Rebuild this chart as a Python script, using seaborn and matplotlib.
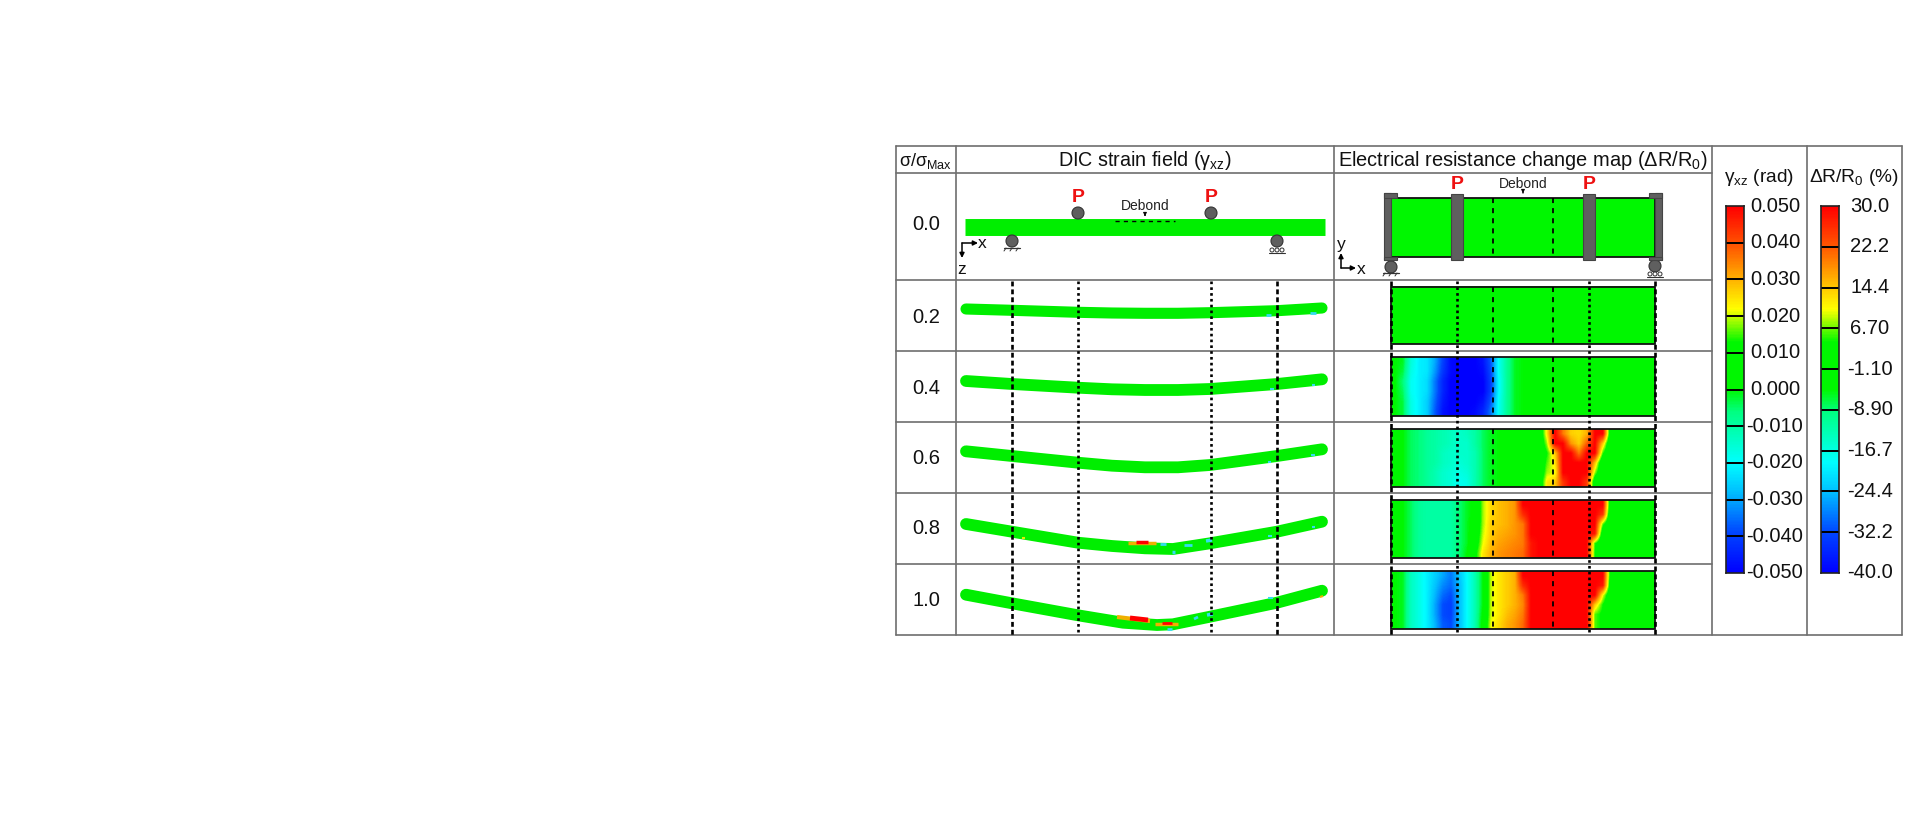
import numpy as np
import pandas as pd
import matplotlib
matplotlib.use('Agg')
import matplotlib.pyplot as plt
from matplotlib.colors import LinearSegmentedColormap
from matplotlib.patches import Rectangle, Circle
import seaborn as sns

sns.set_theme(style='white')
plt.rcParams['font.family'] = ['Liberation Sans', 'DejaVu Sans']
plt.rcParams['mathtext.fontset'] = 'custom'
plt.rcParams['mathtext.rm'] = 'Liberation Sans'
plt.rcParams['mathtext.it'] = 'Liberation Sans'
plt.rcParams['mathtext.default'] = 'rm'

# table text
head_ratio = 'σ/σ$_{Max}$'
head_dic = 'DIC strain field (γ$_{xz}$)'
head_map = 'Electrical resistance change map (ΔR/R$_{0}$)'
head_gamma = 'γ$_{xz}$ (rad)'
head_res = 'ΔR/R$_{0}$ (%)'
row_labels = ['0.0', '0.2', '0.4', '0.6', '0.8', '1.0']
gamma_ticks = ['0.050', '0.040', '0.030', '0.020', '0.010', '0.000', '-0.010', '-0.020', '-0.030', '-0.040', '-0.050']
res_ticks = ['30.0', '22.2', '14.4', '6.70', '-1.10', '-8.90', '-16.7', '-24.4', '-32.2', '-40.0']

# beam centre line (pixels)
beam_x_00 = [965, 1325]
beam_00 = [227, 227]
beam_x = [966, 1012, 1078, 1112, 1145, 1178, 1210, 1277, 1322]
beam_02 = [309, 310.3, 312.3, 313, 313.3, 313.3, 312.7, 310.7, 308]
beam_04 = [381, 384, 387.7, 389.3, 390, 390, 389, 384, 379.3]
beam_06 = [451.3, 456, 462.7, 465.7, 467.3, 467.3, 465, 456, 449.3]
beam_x_08 = [966, 1012, 1078, 1112, 1145, 1173, 1210, 1277, 1322]
beam_08 = [524, 531.7, 542.7, 546, 548.3, 549, 543.3, 531.7, 521.7]
beam_x_10 = [966, 1012, 1078, 1123, 1157, 1173, 1210, 1277, 1322]
beam_10 = [594.7, 603.3, 615.3, 622.7, 625, 624.3, 616.7, 602.7, 590.7]

# small strain spots on the beams: x0, y0, x1, y1, colour, width
spots = [
    (1266, 315, 1271, 315, '#33ddee', 2), (1310, 313, 1316, 313, '#33ddee', 2),
    (1270, 389, 1274, 389, '#33ddee', 1.5), (1312, 385, 1315, 385, '#33ddee', 1.5),
    (1268, 462, 1271, 462, '#33ddee', 1.5), (1311, 455, 1315, 455, '#33ddee', 1.5),
    (1022, 538, 1025, 538, '#e8e800', 1.5), (1128, 543, 1156, 543, '#f0b000', 2.5),
    (1136, 542, 1148, 542, '#ff0000', 2.5), (1160, 544, 1166, 544, '#33ddee', 2),
    (1172, 552, 1175, 552, '#33ddee', 2.5), (1184, 545, 1192, 545, '#33ddee', 2),
    (1206, 541, 1212, 540, '#33ddee', 2.5), (1268, 536, 1272, 536, '#33ddee', 1.5),
    (1312, 527, 1315, 527, '#33ddee', 1.5),
    (1117, 617, 1150, 621, '#f0b000', 3), (1130, 618, 1148, 620, '#ff0000', 3.5),
    (1155, 624, 1178, 624, '#f0b000', 2.5), (1162, 623, 1172, 623, '#ff0000', 2),
    (1167, 629, 1172, 629, '#33ddee', 2), (1194, 619, 1198, 617, '#33ddee', 2),
    (1207, 615, 1213, 614, '#33ddee', 2.5), (1268, 598, 1273, 598, '#33ddee', 1.5),
    (1320, 597, 1323, 596, '#f0b000', 1.5),
]

# resistance change (%), one list per height band, 33 columns left to right
map_02 = [[-5]]
map_04 = [
    [-5, -6, -16, -20, -21, -26, -33, -39, -40, -40, -40, -38, -31, -18, -11, -6, -5, -5, -5, -5, -5, -5, -5, -5, -5, -5, -5, -5, -5, -5, -5, -5, -5],
    [-5, -7, -17, -20, -21, -27, -34, -39, -40, -40, -40, -39, -32, -18, -11, -6, -5, -5, -5, -5, -5, -5, -5, -5, -5, -5, -5, -5, -5, -5, -5, -5, -5],
    [-5, -9, -18, -20, -22, -29, -36, -40, -40, -40, -40, -40, -33, -19, -11, -6, -5, -5, -5, -5, -5, -5, -5, -5, -5, -5, -5, -5, -5, -5, -5, -5, -5],
    [-5, -8, -18, -20, -22, -29, -36, -40, -40, -40, -40, -40, -33, -19, -11, -6, -5, -5, -5, -5, -5, -5, -5, -5, -5, -5, -5, -5, -5, -5, -5, -5, -5],
    [-5, -7, -17, -20, -23, -30, -37, -40, -40, -40, -40, -38, -31, -18, -11, -6, -5, -5, -5, -5, -5, -5, -5, -5, -5, -5, -5, -5, -5, -5, -5, -5, -5],
    [-5, -7, -17, -20, -23, -31, -38, -40, -40, -40, -39, -36, -29, -18, -11, -6, -5, -5, -5, -5, -5, -5, -5, -5, -5, -5, -5, -5, -5, -5, -5, -5, -5],
]
map_06 = [
    [-5, -5, -8, -9, -11, -12, -13, -14, -15, -14, -12, -8, -6, -5, -5, -5, -5, -5, -3, 12, 30, 20, 14, 13, 16, 30, 30, -3, -5, -5, -5, -5, -5],
    [-5, -5, -8, -9, -11, -12, -13, -14, -15, -15, -12, -8, -6, -5, -5, -5, -5, -5, -3, 8, 30, 30, 18, 14, 22, 30, 14, -5, -5, -5, -5, -5, -5],
    [-5, -5, -8, -9, -11, -12, -14, -15, -15, -15, -13, -8, -6, -5, -5, -5, -5, -5, -3, 4, 14, 30, 30, 20, 30, 30, 5, -5, -5, -5, -5, -5, -5],
    [-5, -5, -8, -9, -11, -12, -14, -15, -16, -15, -13, -8, -6, -5, -5, -5, -5, -5, -3, 6, 12, 30, 30, 30, 30, 15, -4, -5, -5, -5, -5, -5, -5],
    [-5, -5, -8, -9, -11, -13, -15, -16, -17, -16, -13, -8, -6, -5, -5, -5, -5, -5, -3, 8, 10, 30, 30, 30, 30, 8, -5, -5, -5, -5, -5, -5, -5],
    [-5, -5, -8, -9, -11, -13, -15, -16, -18, -17, -13, -8, -6, -5, -5, -5, -5, -5, -2, 12, 14, 25, 30, 30, 25, -2, -5, -5, -5, -5, -5, -5, -5],
]
map_08 = [
    [-5, -5, -8, -11, -12, -12, -12, -12, -9, -6, -4, 8, 13, 15, 16, 18, 30, 30, 30, 30, 30, 30, 30, 30, 30, 30, 30, -3, -5, -5, -5, -5, -5],
    [-5, -5, -8, -11, -12, -12, -12, -12, -9, -6, -4, 8, 13, 15, 16, 18, 26, 30, 30, 30, 30, 30, 30, 30, 30, 30, 25, -5, -5, -5, -5, -5, -5],
    [-5, -5, -8, -11, -12, -12, -12, -12, -9, -6, -3, 8, 14, 15, 16, 18, 20, 30, 30, 30, 30, 30, 30, 30, 30, 30, 6, -5, -5, -5, -5, -5, -5],
    [-5, -5, -8, -11, -12, -12, -12, -12, -9, -6, -2, 9, 14, 16, 17, 18, 20, 30, 30, 30, 30, 30, 30, 30, 30, 28, -2, -5, -5, -5, -5, -5, -5],
    [-5, -5, -8, -11, -12, -12, -12, -12, -9, -6, 0, 10, 15, 17, 18, 19, 20, 28, 30, 30, 30, 30, 30, 30, 30, 5, -4, -5, -5, -5, -5, -5, -5],
    [-5, -5, -8, -11, -12, -12, -12, -12, -9, -5, 2, 12, 16, 18, 19, 20, 21, 28, 30, 30, 30, 30, 30, 30, 30, 4, -3, -5, -5, -5, -5, -5, -5],
]
map_10 = [
    [-5, -6, -14, -17, -20, -23, -26, -29, -24, -19, -13, -5, 9, 12, 14, 16, 30, 30, 30, 30, 30, 30, 30, 30, 30, 30, 30, 0, -5, -5, -5, -5, -5],
    [-5, -6, -14, -17, -20, -24, -28, -30, -25, -19, -13, -5, 9, 12, 14, 16, 26, 30, 30, 30, 30, 30, 30, 30, 30, 30, 28, -2, -5, -5, -5, -5, -5],
    [-5, -6, -14, -17, -20, -25, -30, -32, -25, -19, -13, -5, 9, 12, 14, 16, 20, 30, 30, 30, 30, 30, 30, 30, 30, 30, 10, -3, -5, -5, -5, -5, -5],
    [-5, -6, -14, -17, -20, -26, -32, -33, -25, -19, -13, -5, 9, 12, 14, 16, 19, 30, 30, 30, 30, 30, 30, 30, 30, 14, 4, -3, -5, -5, -5, -5, -5],
    [-5, -6, -14, -17, -20, -26, -32, -33, -25, -19, -13, -4, 9, 12, 15, 17, 20, 30, 30, 30, 30, 30, 30, 30, 30, 6, 3, 0, -5, -5, -5, -5, -5],
    [-5, -6, -14, -17, -20, -25, -31, -32, -25, -19, -13, -3, 10, 13, 16, 18, 21, 30, 30, 30, 30, 30, 30, 30, 30, 6, 3, 1, -5, -5, -5, -5, -5],
]

jet_like = LinearSegmentedColormap.from_list('jet_like', [
    (0.0, (0, 0, 1)), (0.11, (0, 0.28, 1)), (0.22, (0, 0.75, 1)), (0.30, (0, 1, 1)),
    (0.44, (0, 1, 0.5)), (0.50, (0, 0.97, 0)), (0.63, (0, 0.97, 0)), (0.72, (1, 1, 0)),
    (0.78, (1, 0.78, 0)), (0.89, (1, 0.35, 0)), (1.0, (1, 0, 0))])
beam_green = '#00ee00'
rule_grey = '#6e6e6e'
ink = '#111111'

fig = plt.figure(figsize=(19.2, 8.24), dpi=100, facecolor='white')
ax = fig.add_axes([0, 0, 1, 1])
ax.set_axis_off()


def add_beam(xs, ys, lw, cap='round'):
    df = pd.DataFrame({'x': xs, 'y': ys})
    sns.lineplot(data=df, x='x', y='y', ax=ax, color=beam_green, lw=lw, sort=False, estimator=None,
                 legend=False, solid_capstyle=cap, solid_joinstyle='round', zorder=3)


# table rules
for y in [173, 280, 351, 422, 493, 564]:
    ax.plot([896, 1712], [y, y], color=rule_grey, lw=1.2, zorder=1)
for y in [146, 635]:
    ax.plot([896, 1902], [y, y], color=rule_grey, lw=1.2, zorder=1)
for x in [896, 956, 1334, 1712, 1807, 1902]:
    ax.plot([x, x], [146, 635], color=rule_grey, lw=1.2, zorder=1)

# header and row text
ax.text(926, 161, head_ratio, fontsize=13, color=ink, ha='center', va='center')
ax.text(1145, 160, head_dic, fontsize=14.2, color=ink, ha='center', va='center')
ax.text(1523, 160, head_map, fontsize=14.4, color=ink, ha='center', va='center')
ax.text(1759, 177, head_gamma, fontsize=13.8, color=ink, ha='center', va='center')
ax.text(1854, 177, head_res, fontsize=13.8, color=ink, ha='center', va='center')
for lab, y in zip(row_labels, [224, 317, 388, 458, 528, 600]):
    ax.text(926, y, lab, fontsize=14.5, color=ink, ha='center', va='center')

# beams
add_beam(beam_x_00, beam_00, 12.2, cap='butt')
add_beam(beam_x, beam_02, 8)
add_beam(beam_x, beam_04, 8.5)
add_beam(beam_x, beam_06, 8.5)
add_beam(beam_x_08, beam_08, 8.5)
add_beam(beam_x_10, beam_10, 8.5)
for x0, y0, x1, y1, col, w in spots:
    ax.plot([x0, x1], [y0, y1], color=col, lw=w, solid_capstyle='butt', zorder=4)

# resistance maps
map_left, map_right = 1391, 1655
map_boxes = [(198, 257, map_02), (287, 344, map_02), (357, 416, map_04),
             (429, 487, map_06), (500, 558, map_08), (571, 629, map_10)]
for top, bottom, vals in map_boxes:
    ax.imshow(np.array(vals, dtype=float), cmap=jet_like, vmin=-40, vmax=30, aspect='auto',
              interpolation='bilinear', extent=(map_left, map_right, bottom, top), zorder=2)
    ax.add_patch(Rectangle((map_left, top), map_right - map_left, bottom - top, fill=False,
                           ec='#111111', lw=1.3, zorder=5))
    for x in [1493, 1553]:
        ax.plot([x, x], [top, bottom], color='black', lw=1.3, ls=(0, (2.8, 2.8)), zorder=6)

# dotted guides through the rows
heavy = (0, (1.85, 1.15))
light = (0, (1, 1.2))
for x, ls in [(1012.3, heavy), (1078, light), (1211, light), (1277, heavy), (1391, heavy), (1457, light), (1589, light), (1655, heavy)]:
    ax.plot([x, x], [281, 635], color='black', lw=1.9, ls=ls, zorder=6)

# load and support sketch, DIC column
disc = '#5f5f5f'
for cx, cy in [(1078, 213), (1211, 213), (1012, 241), (1277, 241), (1391, 267), (1655, 266)]:
    ax.add_patch(Circle((cx, cy), 6, fc=disc, ec='#333333', lw=0.8, zorder=6))
for x in [1078, 1211, 1457, 1589]:
    ax.text(x, 197 if x < 1334 else 184, 'P', color='#ee1111', fontsize=14, fontweight='bold',
            ha='center', va='center', zorder=7)
ax.text(1145, 206, 'Debond', fontsize=10, color='#222222', ha='center', va='center')
ax.text(1523, 184, 'Debond', fontsize=10, color='#222222', ha='center', va='center')
ax.plot([1115, 1175], [221, 221], color='black', lw=1, ls=(0, (3, 3)), zorder=6)
ax.annotate('', xy=(1145, 219), xytext=(1145, 212), arrowprops=dict(arrowstyle='-|>', lw=0.7, color='black', mutation_scale=5))
ax.annotate('', xy=(1523, 196), xytext=(1523, 190), arrowprops=dict(arrowstyle='-|>', lw=0.7, color='black', mutation_scale=5))

# supports on the ground
for cx, gy in [(1012, 248), (1391, 273)]:
    ax.plot([cx - 8, cx + 8], [gy, gy], color='#333333', lw=0.9, zorder=6)
    for dx in [-6, 0, 6]:
        ax.plot([cx + dx, cx + dx - 2], [gy, gy + 3], color='#333333', lw=0.7, zorder=6)
for cx, gy in [(1277, 248), (1655, 272)]:
    for dx in [-5, 0, 5]:
        ax.add_patch(Circle((cx + dx, gy + 2), 2, fc='white', ec='#333333', lw=0.7, zorder=6))
    ax.plot([cx - 8, cx + 8], [gy + 5, gy + 5], color='#333333', lw=0.8, zorder=6)

# clamps on the top view
for x0, x1 in [(1451, 1463), (1583, 1595)]:
    ax.add_patch(Rectangle((x0, 194), x1 - x0, 66, fc=disc, ec='#444444', lw=0.8, zorder=6))
for x0, x1 in [(1384, 1391), (1655, 1662)]:
    ax.add_patch(Rectangle((x0, 193), x1 - x0, 67, fc=disc, ec='#444444', lw=0.8, zorder=6))
for x0, x1 in [(1384, 1397), (1649, 1662)]:
    ax.add_patch(Rectangle((x0, 193), x1 - x0, 5, fc=disc, ec='#444444', lw=0.8, zorder=6))
    ax.add_patch(Rectangle((x0, 257), x1 - x0, 3, fc=disc, ec='#444444', lw=0.8, zorder=6))

# axis glyphs
arrow = dict(arrowstyle='-|>', lw=1.1, color='black', mutation_scale=7, shrinkA=0, shrinkB=0)
ax.annotate('', xy=(978, 243), xytext=(962, 243), arrowprops=arrow)
ax.annotate('', xy=(962, 258), xytext=(962, 243), arrowprops=arrow)
ax.annotate('', xy=(1356, 268), xytext=(1341, 268), arrowprops=arrow)
ax.annotate('', xy=(1341, 253), xytext=(1341, 268), arrowprops=arrow)
ax.text(982, 243, 'x', fontsize=12.5, color=ink, ha='center', va='center')
ax.text(962, 269, 'z', fontsize=12.5, color=ink, ha='center', va='center')
ax.text(1341, 244, 'y', fontsize=12.5, color=ink, ha='center', va='center')
ax.text(1361, 269, 'x', fontsize=12.5, color=ink, ha='center', va='center')

ax.set_xlim(0, 1920)
ax.set_ylim(824, 0)
ax.set_xlabel('')
ax.set_ylabel('')


# colour legends
def add_bar(x0, x1, labels):
    bar = fig.add_axes([x0 / 1920, 1 - 573 / 824, (x1 - x0) / 1920, (573 - 206) / 824])
    grad = np.linspace(1, 0, 367).reshape(-1, 1)
    sns.heatmap(grad, ax=bar, cmap=jet_like, vmin=0, vmax=1, cbar=False, xticklabels=False, yticklabels=False)
    n = len(labels)
    pos = [i * 367 / (n - 1) for i in range(n)]
    bar.hlines(pos[1:-1], 0, 1, color='black', lw=1.4)
    bar.yaxis.tick_right()
    bar.set_yticks(pos)
    bar.set_yticklabels(labels, fontsize=14.5, color=ink, rotation=0, ha='center', va='center')
    bar.tick_params(axis='y', length=0, pad=22.3)
    for s in bar.spines.values():
        s.set_visible(True)
        s.set_color('#222222')
        s.set_linewidth(1.2)


add_bar(1726, 1744, gamma_ticks)
add_bar(1821, 1839, res_ticks)

fig.savefig('out.png', dpi=100, facecolor='white')
